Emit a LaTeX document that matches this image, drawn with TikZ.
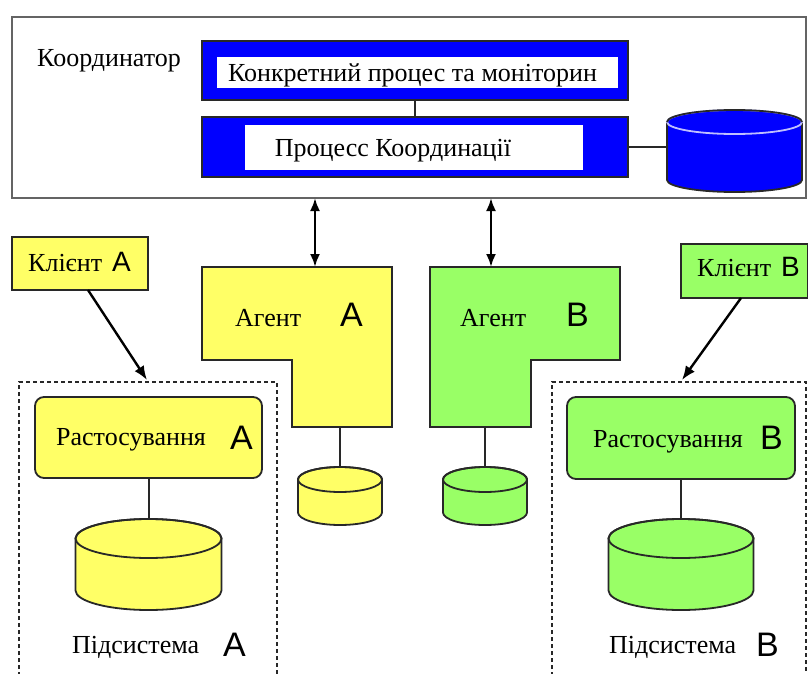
\documentclass[tikz,border=0pt]{standalone}
\usepackage{fontspec}
\setmainfont{Liberation Serif}
\newfontfamily\arialfont{Liberation Sans}
\usetikzlibrary{arrows.meta}
\definecolor{yel}{RGB}{255,255,102}
\definecolor{grn}{RGB}{153,255,102}
\definecolor{blu}{RGB}{0,0,255}
\definecolor{edge}{RGB}{40,40,40}
\definecolor{outerc}{RGB}{100,100,100}
% #1 name of top coordinate, #2 cx, #3 top-ellipse cy, #4 rx, #5 ry, #6 bottom cy, #7 fill, #8 top ellipse line colour
\newcommand\drawcyl[8]{%
  \filldraw[cylst, fill=#7] (#2-#4,#3) -- (#2-#4,#6) arc[start angle=180,end angle=360,x radius=#4pt,y radius=#5pt] -- (#2+#4,#3) -- cycle;
  \filldraw[cylst, fill=#7, draw=#8] (#2,#3) ellipse[x radius=#4pt, y radius=#5pt];
  \draw[cylst] (#2-#4,#3) arc[start angle=180,end angle=0,x radius=#4pt,y radius=#5pt];
  \coordinate (#1) at (#2,#3-#5);
}
\begin{document}
\begin{tikzpicture}[x=1pt,y=-1pt,
  outer/.style={draw=outerc, line width=2.2pt, fill=white, inner sep=0pt, outer sep=0pt},
  bluebox/.style={draw=edge, fill=blu, line width=1.8pt, inner sep=0pt, outer sep=0pt},
  whitebox/.style={fill=white, inner sep=0pt, outer sep=0pt},
  box/.style={draw=edge, line width=1.8pt, inner sep=0pt, outer sep=0pt},
  cylst/.style={draw=edge, line width=1.8pt},
  conn/.style={draw=edge, line width=2pt},
  arr/.style={draw=black, line width=2.4pt, -{Latex[length=14pt,width=11pt]}},
  dbl/.style={draw=black, line width=2.4pt, {Latex[length=13pt,width=10pt]}-{Latex[length=13pt,width=10pt]}},
  subsys/.style={draw=edge, line width=1.7pt, dash pattern=on 4pt off 3pt},
  lbl/.style={font=\fontsize{26}{31}\selectfont, anchor=base west, inner sep=0pt},
  big/.style={font=\arialfont\fontsize{34}{40}\selectfont, anchor=base west, inner sep=0pt},
  small/.style={font=\arialfont\fontsize{28}{34}\selectfont, anchor=base west, inner sep=0pt}
]
\useasboundingbox (0,0) rectangle (808,674);
\fill[white] (0,0) rectangle (808,674);

% Coordinator
\node[outer, minimum width=794pt, minimum height=181pt] (coord) at (409,107.5) {};
\node[lbl] (coordlbl) at (37,67) {Координатор};
\node[bluebox, minimum width=426pt, minimum height=59pt] (b1) at (415,70.5) {};
\node[whitebox, minimum width=401pt, minimum height=31pt] (w1) at (417.5,72.5) {};
\node[lbl, anchor=base] (t1) at (412.5,82) {Конкретний процес та моніторин};
\node[bluebox, minimum width=426pt, minimum height=60pt] (b2) at (415,147) {};
\node[whitebox, minimum width=338pt, minimum height=45pt] (w2) at (414,147.5) {};
\node[lbl, anchor=base] (t2) at (393,157) {Процесс Координації};
\draw[conn] (b1.south) -- (b2.north);
\drawcyl{cylC}{734.5}{122}{67.5}{12}{180}{blu}{blue!25!white}
\coordinate (cylCw) at (667,147);
\draw[conn] (b2.east) -- (cylCw);

% Agents
\draw[box, fill=yel] (202,267) coordinate (agA) -- (392,267) -- (392,427) -- (292,427) -- (292,360) -- (202,360) -- cycle;
\coordinate (agAtop) at (315,267);
\coordinate (agAbot) at (340,427);
\node[lbl] (agAl) at (235,326) {Агент};
\node[big] (agAx) at (340,326) {A};
\draw[box, fill=grn] (430,267) coordinate (agB) -- (620,267) -- (620,360) -- (531,360) -- (531,427) -- (430,427) -- cycle;
\coordinate (agBtop) at (491,267);
\coordinate (agBbot) at (485,427);
\node[lbl] (agBl) at (460,326) {Агент};
\node[big] (agBx) at (566,326) {B};
\draw[dbl] (agAtop |- coord.south) -- (agAtop);
\draw[dbl] (agBtop |- coord.south) -- (agBtop);

\drawcyl{cylSA}{340}{479.5}{42}{12.5}{512.5}{yel}{edge}
\drawcyl{cylSB}{485}{479.5}{42}{12.5}{512.5}{grn}{edge}
\draw[conn] (agAbot) -- (cylSA);
\draw[conn] (agBbot) -- (cylSB);

% Clients
\node[box, fill=yel, minimum width=136pt, minimum height=53pt] (cliA) at (80,263.5) {};
\node[lbl] (cliAl) at (28,271) {Клієнт};
\node[small] (cliAx) at (112,271) {A};
\node[box, fill=grn, minimum width=127pt, minimum height=54pt] (cliB) at (744.5,271) {};
\node[lbl] (cliBl) at (697,276) {Клієнт};
\node[small] (cliBx) at (781,276) {B};

% Subsystem A
\draw[subsys] (19,690) -- (19,382) -- (277,382) -- (277,690);
\coordinate (subA) at (147,380);
\draw[arr] ([xshift=8pt]cliA.south) -- (subA);
\node[box, fill=yel, rounded corners=9pt, minimum width=227pt, minimum height=81pt] (rasA) at (148.5,437.5) {};
\node[lbl] (rasAl) at (56,445) {Растосування};
\node[big] (rasAx) at (230,449) {A};
\drawcyl{cylA}{148.5}{538.5}{73}{19.5}{590.5}{yel}{edge}
\draw[conn] (rasA.south) -- (cylA);
\node[lbl] (subAl) at (72,653) {Підсистема};
\node[big] (subAx) at (223,656) {A};

% Subsystem B
\draw[subsys] (552,690) -- (552,382) -- (806,382) -- (806,690);
\coordinate (subB) at (682,380);
\draw[arr] ([xshift=-3.5pt]cliB.south) -- (subB);
\node[box, fill=grn, rounded corners=9pt, minimum width=228pt, minimum height=82pt] (rasB) at (681,438) {};
\node[lbl] (rasBl) at (593,447) {Растосування};
\node[big] (rasBx) at (760,449) {B};
\drawcyl{cylB}{681}{538.5}{72.5}{19.5}{590.5}{grn}{edge}
\draw[conn] (rasB.south) -- (cylB);
\node[lbl] (subBl) at (609,653) {Підсистема};
\node[big] (subBx) at (756,656) {B};
\end{tikzpicture}
\end{document}
